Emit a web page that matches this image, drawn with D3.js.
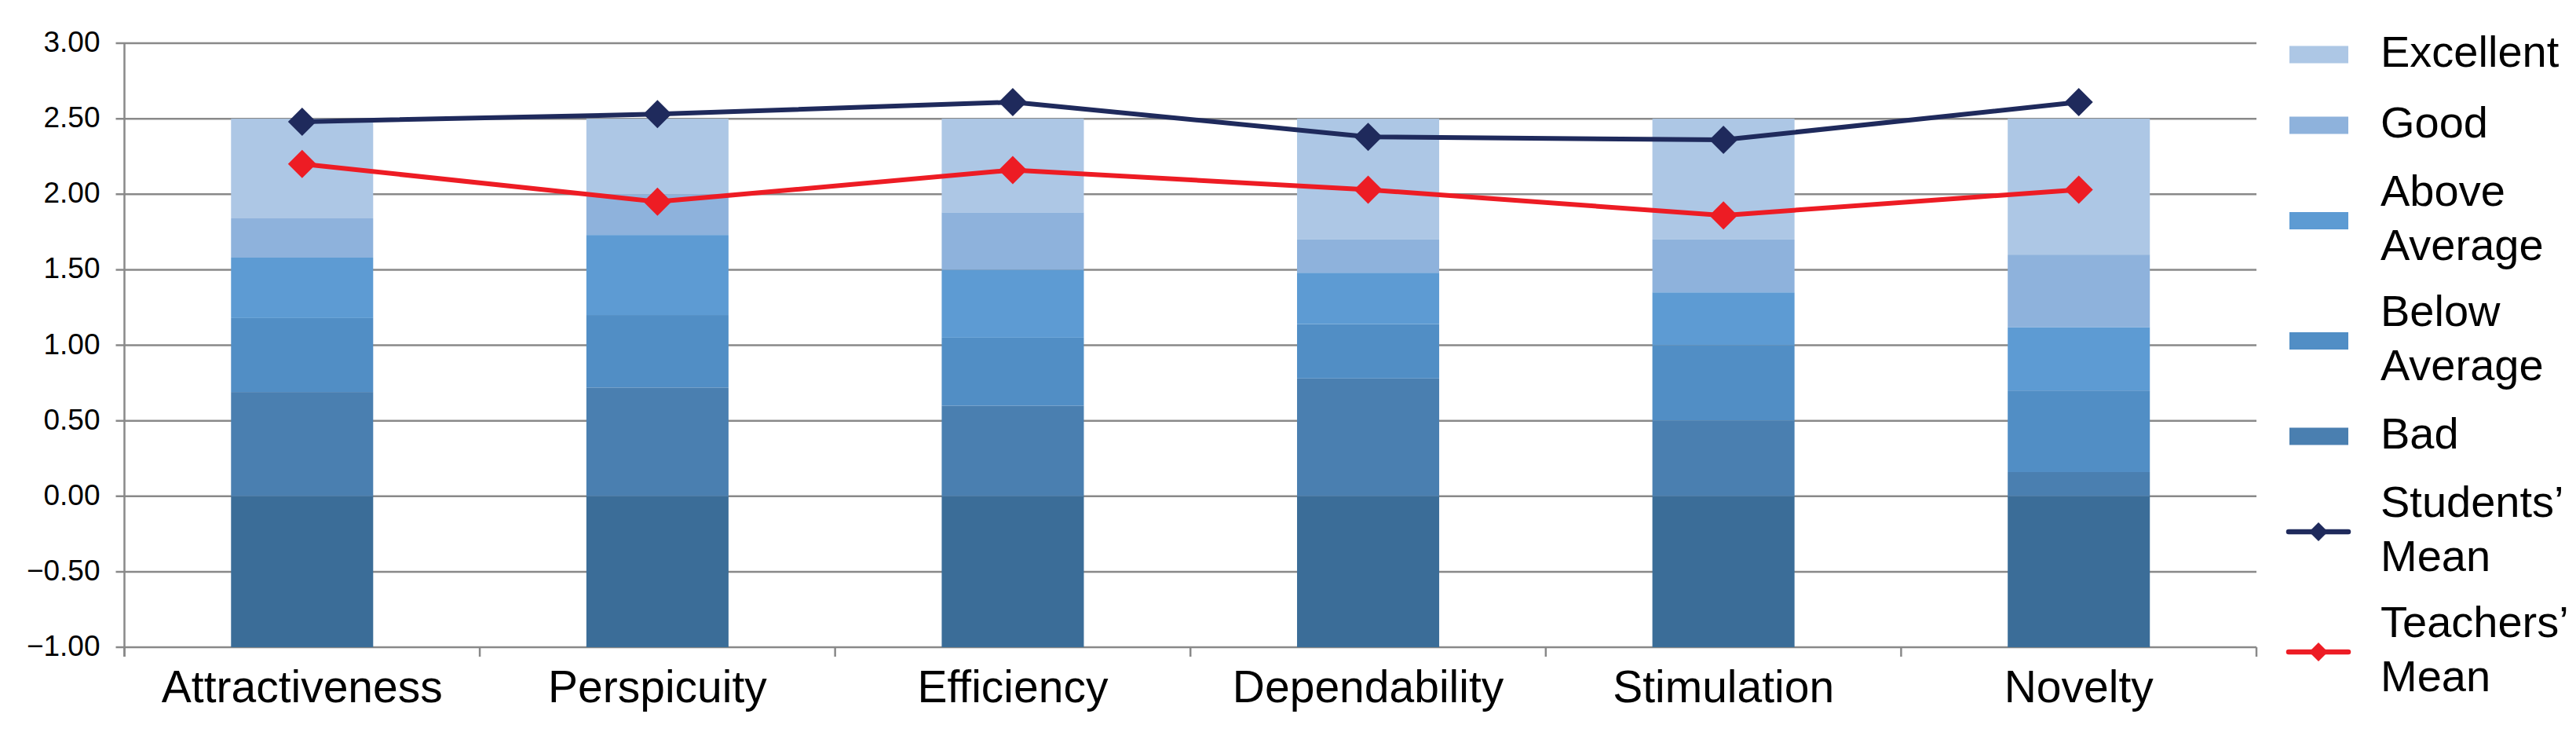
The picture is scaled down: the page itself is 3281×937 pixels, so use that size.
<!DOCTYPE html>
<html>
<head>
<meta charset="utf-8">
<script src="https://cdn.jsdelivr.net/npm/d3@7"></script>
<style>
  body { margin: 0; background: #fff; }
  text { font-family: "Liberation Sans", Arial, sans-serif; fill: #000; }
</style>
</head>
<body>
<script>
// categories and benchmark bands (stack segment sizes)
const categories = ["Attractiveness", "Perspicuity", "Efficiency", "Dependability", "Stimulation", "Novelty"];
const lowerBorder = [-1, -1, -1, -1, -1, -1];
const bad = [0.69, 0.72, 0.60, 0.78, 0.50, 0.16];
const belowAverage = [0.49, 0.48, 0.45, 0.36, 0.50, 0.54];
const aboveAverage = [0.40, 0.53, 0.45, 0.34, 0.35, 0.42];
const good = [0.26, 0.27, 0.38, 0.22, 0.35, 0.48];
const excellent = [0.66, 0.50, 0.62, 0.80, 0.80, 0.90];
const studentsMean = [2.48, 2.53, 2.61, 2.38, 2.36, 2.61];
const teachersMean = [2.20, 1.95, 2.16, 2.03, 1.86, 2.03];
const yTicks = [-1, -0.5, 0, 0.5, 1, 1.5, 2, 2.5, 3];

const width = 3281, height = 937;
const marginLeft = 158.5, marginRight = 407, marginTop = 55, marginBottom = 113;

const seriesKeys = ["lower", "bad", "below", "above", "good", "excellent"];
const seriesValues = { lower: lowerBorder, bad, below: belowAverage, above: aboveAverage, good, excellent };
const seriesColors = { lower: "#3b6d98", bad: "#4a7fb0", below: "#518ec5", above: "#5d9bd3", good: "#8eb2dc", excellent: "#adc7e5" };

const table = categories.map((c, i) => {
  const row = { category: c };
  seriesKeys.forEach(k => row[k] = seriesValues[k][i]);
  return row;
});

const x = d3.scaleBand()
  .domain(categories)
  .range([marginLeft, width - marginRight])
  .paddingInner(0.6)
  .paddingOuter(0.3);

const y = d3.scaleLinear()
  .domain([-1, 3])
  .range([height - marginBottom, marginTop]);

const svg = d3.select("body").append("svg")
  .attr("width", width)
  .attr("height", height)
  .attr("viewBox", [0, 0, width, height]);

// gridlines
svg.append("g")
  .attr("stroke", "#898989")
  .attr("stroke-width", 2.5)
  .selectAll("line")
  .data(yTicks)
  .join("line")
  .attr("x1", marginLeft - 11)
  .attr("x2", width - marginRight)
  .attr("y1", d => y(d))
  .attr("y2", d => y(d));

// y axis line
svg.append("line")
  .attr("x1", marginLeft).attr("x2", marginLeft)
  .attr("y1", y(3)).attr("y2", y(-1) + 12)
  .attr("stroke", "#898989").attr("stroke-width", 2.5);

// x axis ticks at category boundaries
const step = x.step();
svg.append("g")
  .attr("stroke", "#898989")
  .attr("stroke-width", 2.5)
  .selectAll("line")
  .data(d3.range(categories.length + 1))
  .join("line")
  .attr("x1", i => marginLeft + i * step)
  .attr("x2", i => marginLeft + i * step)
  .attr("y1", y(-1))
  .attr("y2", y(-1) + 12);

// y tick labels
const fmt = d3.format(".2f");
svg.append("g")
  .attr("font-size", 37)
  .attr("text-anchor", "end")
  .selectAll("text")
  .data(yTicks)
  .join("text")
  .attr("x", marginLeft - 31)
  .attr("y", d => y(d))
  .attr("dy", "0.3em")
  .text(d => fmt(d));

// stacked bars
const stack = d3.stack().keys(seriesKeys).offset(d3.stackOffsetDiverging);
const layers = stack(table);

svg.append("g")
  .selectAll("g")
  .data(layers)
  .join("g")
  .attr("fill", d => seriesColors[d.key])
  .selectAll("rect")
  .data(d => d)
  .join("rect")
  .attr("x", d => x(d.data.category))
  .attr("width", x.bandwidth())
  .attr("y", d => y(d[1]))
  .attr("height", d => y(d[0]) - y(d[1]));

// category labels
svg.append("g")
  .attr("font-size", 57)
  .attr("text-anchor", "middle")
  .selectAll("text")
  .data(categories)
  .join("text")
  .attr("x", d => x(d) + x.bandwidth() / 2)
  .attr("y", y(-1) + 70)
  .text(d => d);

// mean lines
const diamond = r => `M0,${-r}L${r},0L0,${r}L${-r},0Z`;
const lineSeries = [
  { name: ["Students’", "Mean"], values: studentsMean, color: "#1f2a5c" },
  { name: ["Teachers’", "Mean"], values: teachersMean, color: "#ed1c24" }
];
const cx = (d, i) => x(categories[i]) + x.bandwidth() / 2;
const line = d3.line().x(cx).y(d => y(d));

lineSeries.forEach(s => {
  svg.append("path")
    .attr("d", line(s.values))
    .attr("fill", "none")
    .attr("stroke", s.color)
    .attr("stroke-width", 6)
    .attr("stroke-linejoin", "round");
  svg.append("g")
    .selectAll("path")
    .data(s.values)
    .join("path")
    .attr("d", diamond(18))
    .attr("fill", s.color)
    .attr("transform", (d, i) => `translate(${cx(d, i)},${y(d)})`);
});

// legend
const legendItems = [
  { name: ["Excellent"], type: "rect", color: seriesColors.excellent },
  { name: ["Good"], type: "rect", color: seriesColors.good },
  { name: ["Above", "Average"], type: "rect", color: seriesColors.above },
  { name: ["Below", "Average"], type: "rect", color: seriesColors.below },
  { name: ["Bad"], type: "rect", color: seriesColors.bad },
  ...lineSeries.map(s => ({ name: s.name, type: "line", color: s.color }))
];

const lineHeight = 69, capHeight = 40;
let legendTop = 24.5;
const legend = svg.append("g").attr("font-size", 56);
legendItems.forEach(item => {
  const n = item.name.length;
  const h = n === 1 ? 90 : 153;
  const cy = legendTop + h / 2;
  legendTop += h;
  if (item.type === "rect") {
    legend.append("rect")
      .attr("x", 2916).attr("y", cy - 11)
      .attr("width", 75).attr("height", 22)
      .attr("fill", item.color);
  } else {
    legend.append("line")
      .attr("x1", 2915).attr("x2", 2991)
      .attr("y1", cy).attr("y2", cy)
      .attr("stroke", item.color)
      .attr("stroke-width", 6.5)
      .attr("stroke-linecap", "round");
    legend.append("path")
      .attr("d", diamond(12))
      .attr("fill", item.color)
      .attr("transform", `translate(2953,${cy})`);
  }
  const lastBaseline = cy - 5 + (capHeight + (n - 1) * lineHeight) / 2;
  item.name.forEach((t, j) => {
    legend.append("text")
      .attr("x", 3032)
      .attr("y", lastBaseline - (n - 1 - j) * lineHeight)
      .text(t);
  });
});
</script>
</body>
</html>
